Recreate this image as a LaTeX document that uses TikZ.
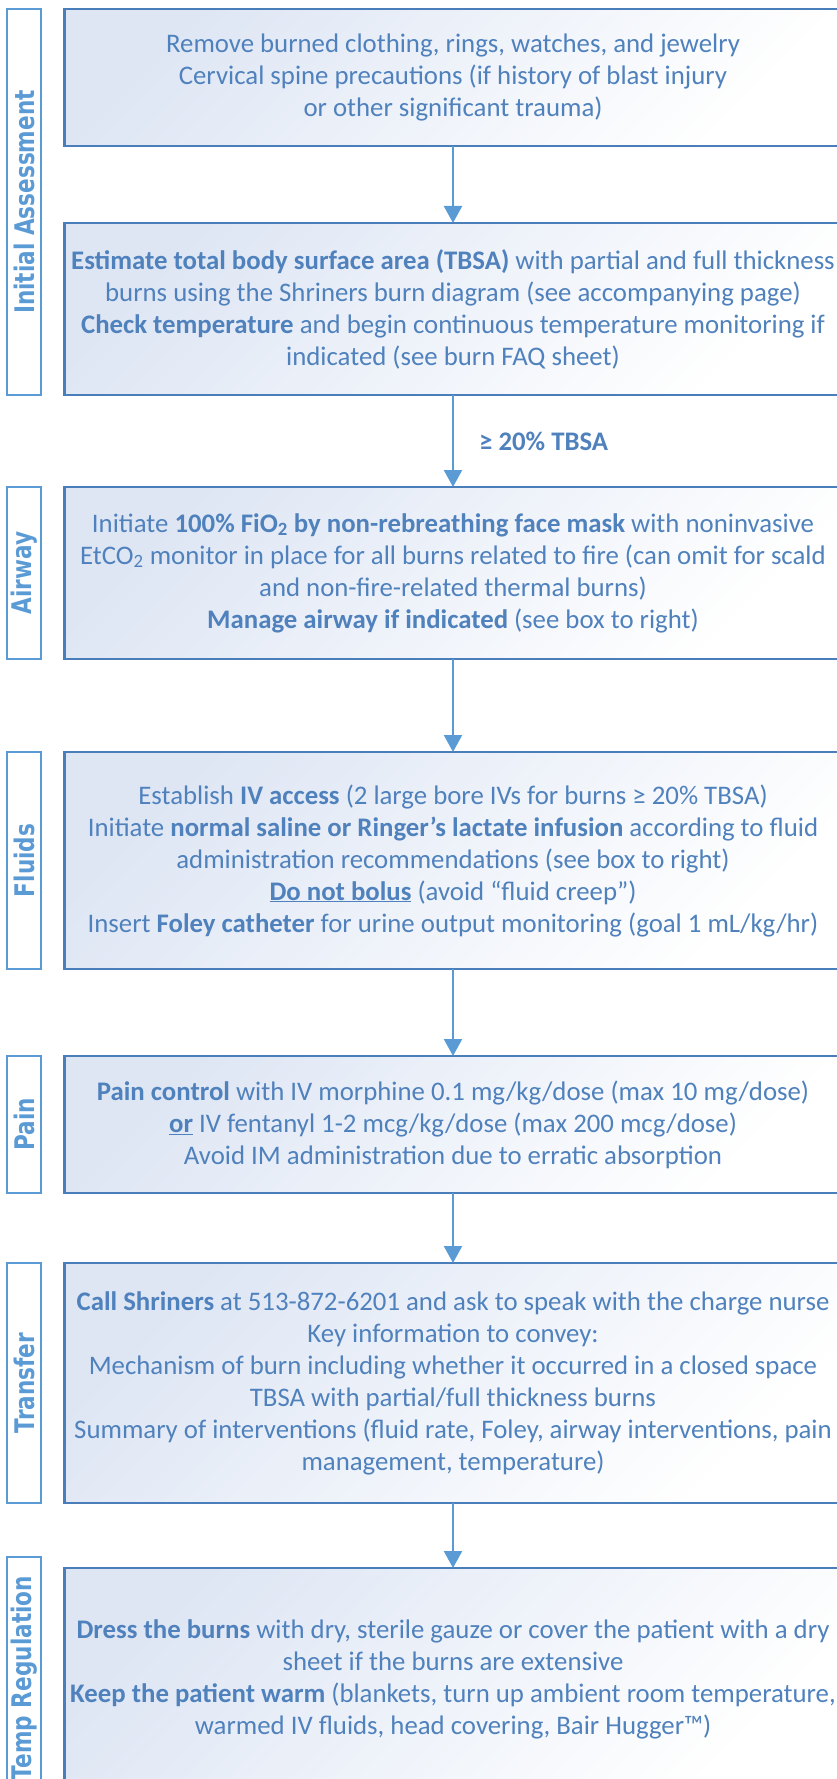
\documentclass[tikz,border=0pt]{standalone}
\usepackage{fontspec}
\setmainfont{Carlito}
\newfontfamily\lblfont{DejaVu Sans}
\usetikzlibrary{positioning, calc, arrows.meta}

\definecolor{txtblue}{RGB}{79,129,189}
\definecolor{boxline}{RGB}{74,126,187}
\definecolor{lblline}{RGB}{91,155,213}
\definecolor{boxfill}{RGB}{222,230,244}

\newcommand{\lbltext}[1]{\rotatebox{90}{\scalebox{0.8}[1]{\lblfont\bfseries\fontsize{27}{32}\selectfont #1}}}

\begin{document}
\begin{tikzpicture}[x=1pt, y=-1pt, >={Triangle[width=18pt,length=17pt]}, line width=2.3pt,
  stepbox/.style={draw=boxline, top color=boxfill, bottom color=white, shading angle=45, minimum width=777pt, outer sep=0pt, align=center, text=txtblue, font=\fontsize{26.8}{32}\selectfont},
  lblbox/.style={draw=lblline, minimum width=34.6pt, outer sep=0pt, inner sep=0pt, text=lblline},
  every edge/.style={draw=lblline, ->, line width=2.3pt}]
  \useasboundingbox (0,0) rectangle (837,1779);
  \clip (0,0) rectangle (837,1779);

  % flow boxes
  \node[stepbox, minimum height=137pt] (box1) at (453,77.5) {Remove burned clothing, rings, watches, and jewelry\\ Cervical spine precautions (if history of blast injury\\ or other significant trauma)};
  \node[stepbox, minimum height=172pt, below=77pt of box1] (box2) {\textbf{Estimate total body surface area (TBSA)} with partial and full thickness\\ burns using the Shriners burn diagram (see accompanying page)\\ \textbf{Check temperature} and begin continuous temperature monitoring if\\ indicated (see burn FAQ sheet)};
  \node[stepbox, minimum height=172pt, below=92pt of box2] (box3) {Initiate \textbf{100\% FiO\textsubscript{2} by non-rebreathing face mask} with noninvasive\\ EtCO\textsubscript{2} monitor in place for all burns related to fire (can omit for scald\\ and non-fire-related thermal burns)\\ \textbf{Manage airway if indicated} (see box to right)};
  \node[stepbox, minimum height=217pt, below=93pt of box3] (box4) {Establish \textbf{IV access} (2 large bore IVs for burns ≥ 20\% TBSA)\\ Initiate \textbf{normal saline or Ringer’s lactate infusion} according to fluid\\ administration recommendations (see box to right)\\ \underline{\textbf{Do not bolus}} (avoid “fluid creep”)\\ Insert \textbf{Foley catheter} for urine output monitoring (goal 1 mL/kg/hr)};
  \node[stepbox, minimum height=137pt, below=87pt of box4] (box5) {\textbf{Pain control} with IV morphine 0.1 mg/kg/dose (max 10 mg/dose)\\ \underline{\textbf{or}} IV fentanyl 1-2 mcg/kg/dose (max 200 mcg/dose)\\ Avoid IM administration due to erratic absorption};
  \node[stepbox, minimum height=240pt, below=70pt of box5] (box6) {\textbf{Call Shriners} at 513-872-6201 and ask to speak with the charge nurse\\ Key information to convey:\\ Mechanism of burn including whether it occurred in a closed space\\ TBSA with partial/full thickness burns\\ Summary of interventions (fluid rate, Foley, airway interventions, pain\\ management, temperature)};
  \node[stepbox, minimum height=222pt, below=65pt of box6] (box7) {\textbf{Dress the burns} with dry, sterile gauze or cover the patient with a dry\\ sheet if the burns are extensive\\ \textbf{Keep the patient warm} (blankets, turn up ambient room temperature,\\ warmed IV fluids, head covering, Bair Hugger™)};

  % stage labels
  \node[lblbox, minimum height=386pt, anchor=north east] (lblinit) at ([xshift=-23.2pt]box1.north west) {\lbltext{Initial Assessment}};
  \node[lblbox, minimum height=172pt, left=23.2pt of box3] (lblair) {\lbltext{Airway}};
  \node[lblbox, minimum height=217pt, left=23.2pt of box4] (lblfluid) {\lbltext{Fluids}};
  \node[lblbox, minimum height=137pt, left=23.2pt of box5] (lblpain) {\lbltext{Pain}};
  \node[lblbox, minimum height=240pt, left=23.2pt of box6] (lbltrans) {\lbltext{Transfer}};
  \node[lblbox, minimum height=242pt, anchor=north east] (lbltemp) at ([xshift=-23.2pt, yshift=11pt]box7.north west) {\lbltext{Temp Regulation}};

  \path
    (box1) edge (box2)
    (box2) edge node[right=25pt, inner sep=0pt, text=txtblue, font=\fontsize{26.8}{32}\selectfont\bfseries] {≥ 20\% TBSA} (box3)
    (box3) edge (box4)
    (box4) edge (box5)
    (box5) edge (box6)
    (box6) edge (box7);
\end{tikzpicture}
\end{document}
